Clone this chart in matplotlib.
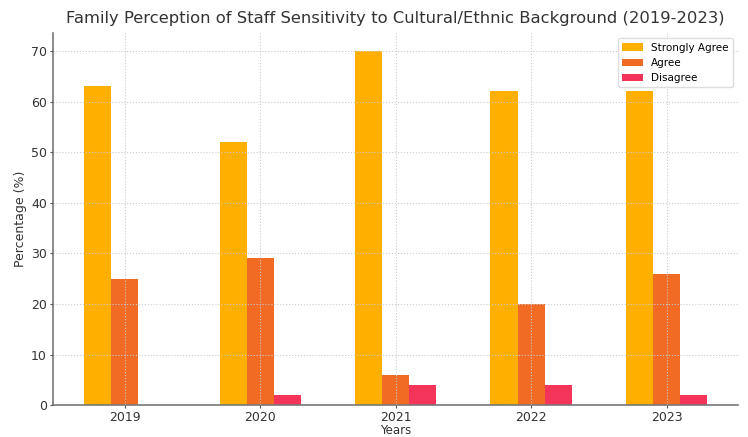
import numpy as np
import matplotlib.pyplot as plt

years = ['2019', '2020', '2021', '2022', '2023']
strongly_agree = [63, 52, 70, 62, 62]
agree = [25, 29, 6, 20, 26]
disagree = [0, 2, 4, 4, 2]

x = np.arange(len(years))
w = 0.2

fig = plt.figure(figsize=(7.48, 4.37), dpi=100)
ax = fig.add_axes([0.071, 0.073, 0.916, 0.851])

ax.bar(x - w, strongly_agree, w, color='#FFAF00', label='Strongly Agree')
ax.bar(x, agree, w, color='#F26B25', label='Agree')
ax.bar(x + w, disagree, w, color='#F5345A', label='Disagree')

ax.set_xticks(x)
ax.set_xticklabels(years)
ax.set_xlim(-0.53, 4.53)
ax.set_ylim(0, 73.5)
ax.set_yticks(range(0, 71, 10))
ax.grid(True, linestyle=':', color='#cccccc', linewidth=0.8)
ax.set_axisbelow(False)

for s in ['top', 'right']:
    ax.spines[s].set_visible(False)
for s in ['left', 'bottom']:
    ax.spines[s].set_color('#777777')
    ax.spines[s].set_linewidth(1.2)
ax.tick_params(colors='#333333', labelsize=9, length=2.5, pad=2)
ax.tick_params(axis='both', color='#555555')

ax.set_title('Family Perception of Staff Sensitivity to Cultural/Ethnic Background (2019-2023)',
             fontsize=11.8, color='#333333', pad=7)
ax.set_xlabel('Years', fontsize=8.5, color='#333333', labelpad=0)
ax.set_ylabel('Percentage (%)', fontsize=9, color='#333333', labelpad=3)
ax.legend(fontsize=7.5, loc='upper right', framealpha=1, edgecolor='#dddddd')

fig.savefig('out.png', dpi=100)
